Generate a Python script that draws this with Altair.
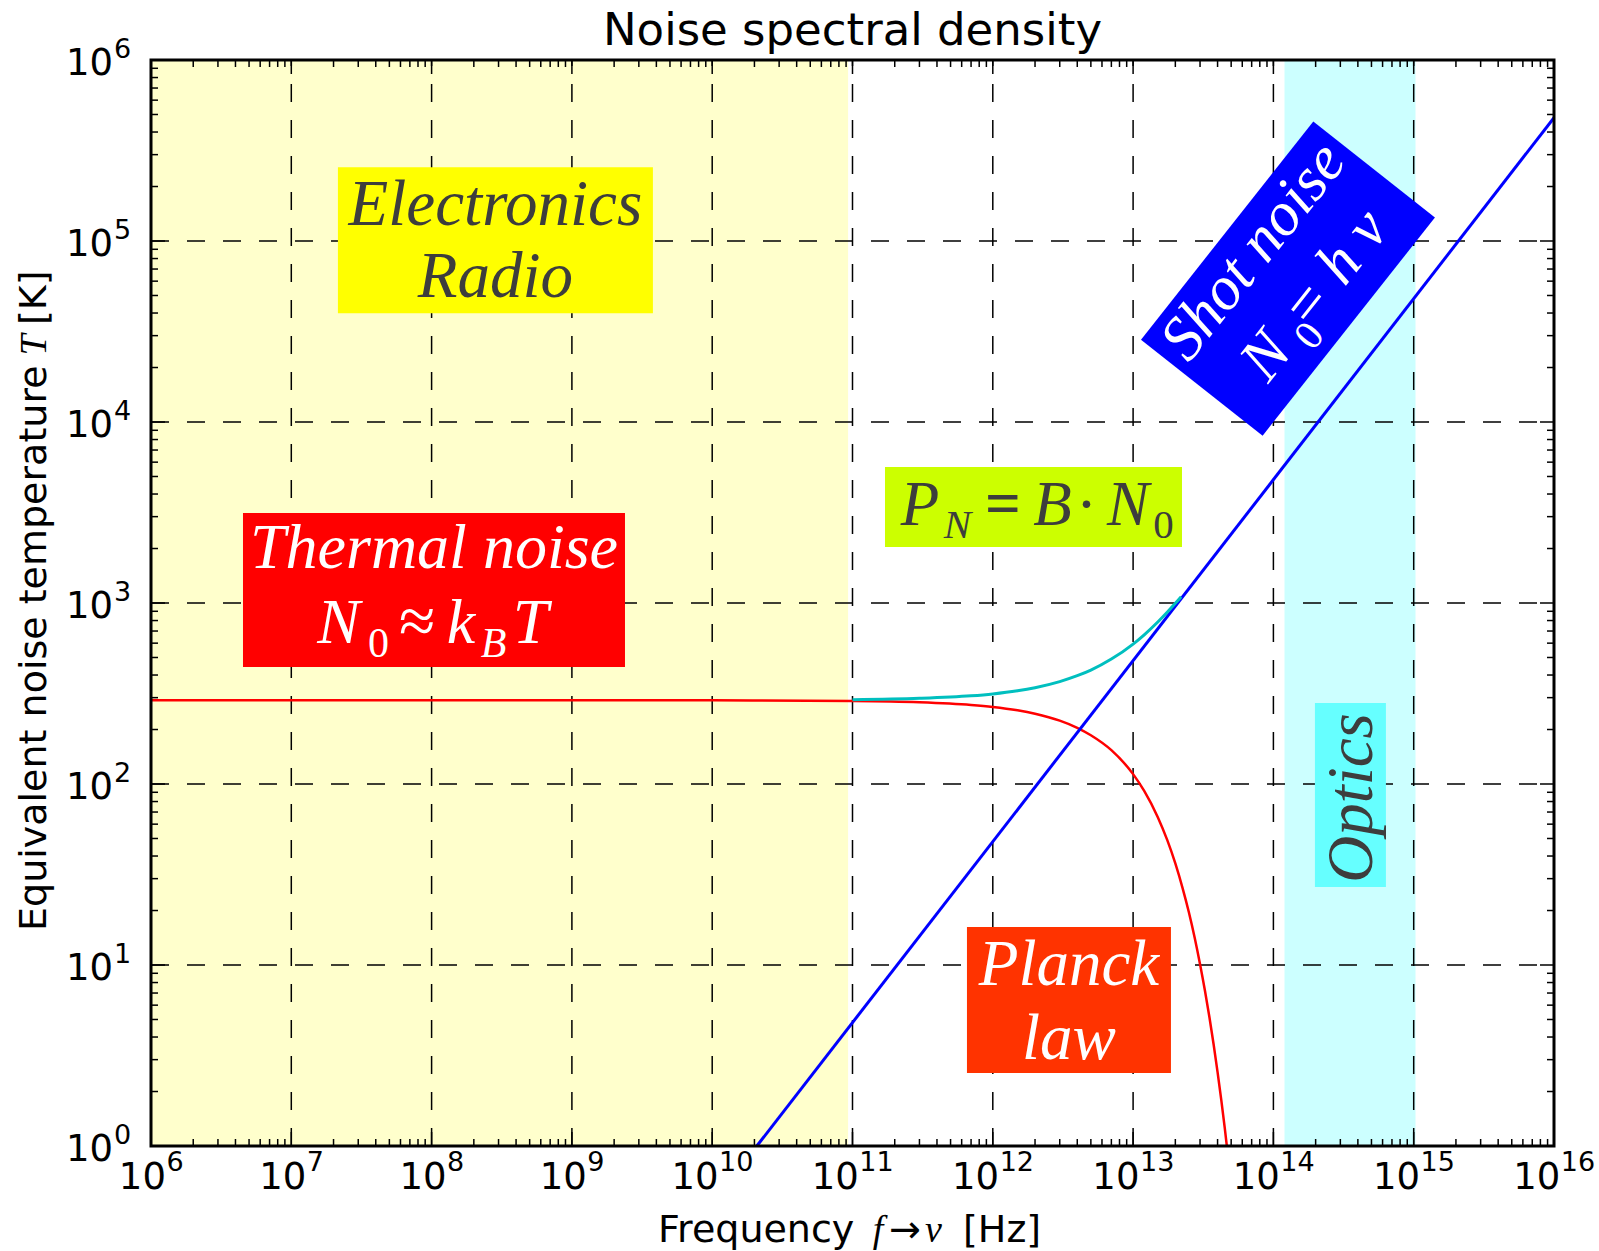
import altair as alt
import pandas as pd

# ---------------- data ----------------
thermal_freq = [1e6, 1e7, 1e8, 1e9, 1e10, 1e11, 3e11, 7e11, 1e12, 1.5e12, 2e12, 3e12,
                4e12, 5e12, 7e12, 1e13, 1.2e13, 1.5e13, 1.75e13, 2e13, 2.25e13, 2.5e13,
                2.75e13, 3e13, 3.25e13, 3.5e13, 3.75e13, 4e13, 4.25e13, 4.5e13, 4.7e13]
thermal_T = [290, 290, 290, 290, 289.8, 287.6, 283, 273.5, 266.6, 255.4, 244.6, 224,
             204.5, 186, 153.8, 113.4, 91.6, 65.6, 49.1, 36.4, 26.7, 19.5,
             14.1, 10.1, 7.23, 5.14, 3.64, 2.56, 1.80, 1.26, 0.94]

sum_freq = [1e11, 3e11, 7e11, 1e12, 1.5e12, 2e12, 3e12, 4e12, 5e12, 7e12, 1e13,
            1.2e13, 1.5e13, 1.75e13, 2e13, 2.2e13]
sum_T = [292.4, 297.4, 307.1, 314.6, 327.4, 340.6, 368, 396.5, 426, 490, 593,
         667.6, 785.6, 889, 996, 1084]

shot_freq = [2.08e10, 1e16]
shot_T = [1.0, 4.8e5]

region_start = [1e6, 1.2e14]
region_end = [9.3e10, 1.03e15]
region_color = ["#FFFFCC", "#CCFFFF"]

x_exponents = list(range(6, 17))
y_exponents = list(range(0, 7))

title_text = "Noise spectral density"

# annotation anchors (data coordinates)
ann_x = {"elec": 2.85e8, "therm": 1.04e8, "pn": 1.95e12, "shot": 1.27e14,
         "planck": 3.49e12, "optics": 3.54e14}
ann_y = {"elec": 1.01e5, "therm": 1180, "pn": 3390, "shot": 6.2e4,
         "planck": 6.4, "optics": 87}

# ---------------- layout ----------------
W, H = 1403, 1086
xs = alt.Scale(type="log", domain=[1e6, 1e16])
ys = alt.Scale(type="log", domain=[1, 1e6])


def X(f):
    return alt.X(f, type="quantitative", scale=xs, axis=None)


def Y(f):
    return alt.Y(f, type="quantitative", scale=ys, axis=None)


layers = []

# background regions
reg = pd.DataFrame({"s": region_start, "e": region_end, "c": region_color})
layers.append(alt.Chart(reg).mark_rect().encode(
    x=X("s"), x2=alt.X2("e"), y=alt.value(0), y2=alt.value(H),
    color=alt.Color("c:N", scale=None)))

# grid
x_major = [10.0 ** e for e in x_exponents]
y_major = [10.0 ** e for e in y_exponents]
x_minor = [m * 10.0 ** e for e in x_exponents[:-1] for m in range(2, 10)]
y_minor = [m * 10.0 ** e for e in y_exponents[:-1] for m in range(2, 10)]

dash = [18, 18]
layers.append(alt.Chart(pd.DataFrame({"v": x_major[1:-1]})).mark_rule(
    color="black", strokeWidth=1.5, strokeDash=dash).encode(
    x=X("v"), y=alt.value(H), y2=alt.value(0)))
layers.append(alt.Chart(pd.DataFrame({"v": y_major[1:-1]})).mark_rule(
    color="black", strokeWidth=1.5, strokeDash=dash).encode(
    y=Y("v"), x=alt.value(0), x2=alt.value(W)))

# ticks (inside, all four sides)
for vals, ln in ((x_major, 14), (x_minor, 7)):
    d = pd.DataFrame({"v": vals})
    layers.append(alt.Chart(d).mark_rule(color="black", strokeWidth=1.5).encode(
        x=X("v"), y=alt.value(H), y2=alt.value(H - ln)))
    layers.append(alt.Chart(d).mark_rule(color="black", strokeWidth=1.5).encode(
        x=X("v"), y=alt.value(0), y2=alt.value(ln)))
for vals, ln in ((y_major, 14), (y_minor, 7)):
    d = pd.DataFrame({"v": vals})
    layers.append(alt.Chart(d).mark_rule(color="black", strokeWidth=1.5).encode(
        y=Y("v"), x=alt.value(0), x2=alt.value(ln)))
    layers.append(alt.Chart(d).mark_rule(color="black", strokeWidth=1.5).encode(
        y=Y("v"), x=alt.value(W), x2=alt.value(W - ln)))

# curves
th = pd.DataFrame({"f": thermal_freq, "T": thermal_T})
sm = pd.DataFrame({"f": sum_freq, "T": sum_T})
sh = pd.DataFrame({"f": shot_freq, "T": shot_T})
layers.append(alt.Chart(th).mark_line(color="#FF0000", strokeWidth=2.5, clip=True,
                                      interpolate="monotone").encode(x=X("f"), y=Y("T")))
layers.append(alt.Chart(sh).mark_line(color="#0000FF", strokeWidth=3, clip=True).encode(
    x=X("f"), y=Y("T")))
layers.append(alt.Chart(sm).mark_line(color="#00BFBF", strokeWidth=3, clip=True,
                                      interpolate="monotone").encode(x=X("f"), y=Y("T")))


# annotation boxes
def box(key, w, h, fill, angle=0):
    d = pd.DataFrame({"x": [ann_x[key]], "y": [ann_y[key]]})
    path = f"M{-w/2},{-h/2}L{w/2},{-h/2}L{w/2},{h/2}L{-w/2},{h/2}Z"
    kw = dict(shape=path, size=4, filled=True, fill=fill, opacity=1, strokeWidth=0)
    if angle:
        kw["angle"] = angle
    return alt.Chart(d).mark_point(**kw).encode(x=X("x"), y=Y("y"))


SHOT_ANGLE = 308.3
layers += [
    box("elec", 315, 146, "#FFFF00"),
    box("therm", 382, 154, "#FF0000"),
    box("pn", 297, 80, "#CCFF00"),
    box("shot", 278, 155, "#0000FF", SHOT_ANGLE),
    box("planck", 204, 146, "#FF3300"),
    box("optics", 71, 184, "#66FFFF"),
]

SERIF = "Liberation Serif"
DARK = "#3D3D3D"


def piece(key, text, dx, dy, size, color, italic=True, angle=0, align="center",
          bold=False):
    d = pd.DataFrame({"x": [ann_x[key]], "y": [ann_y[key]], "t": [text]})
    kw = dict(align=align, baseline="alphabetic", dx=dx, dy=dy, fontSize=size,
              font=SERIF, fontStyle="italic" if italic else "normal", color=color)
    if bold:
        kw["fontWeight"] = "bold"
    if angle:
        kw["angle"] = angle
    return alt.Chart(d).mark_text(**kw).encode(x=X("x"), y=Y("y"), text="t:N")


# Electronics / Radio
layers.append(piece("elec", "Electronics", 0, -15, 65, DARK))
layers.append(piece("elec", "Radio", 0, 57, 65, DARK))
# Thermal noise
layers.append(piece("therm", "Thermal noise", 0, -22, 64, "white"))
for t, dx, dy, sz, it in [("N", -95.5, 53, 64, True), ("0", -55.5, 67, 42, False),
                          ("≈", -17, 53, 66, False), ("k", 27, 53, 64, True),
                          ("B", 59.5, 67, 42, True), ("T", 96.5, 53, 64, True)]:
    layers.append(piece("therm", t, dx, dy, sz, "white", it))
# P_N = B . N_0
for t, dx, dy, sz, it, bd in [("P", -113.5, 18, 63, True, False), ("N", -76, 31, 41, True, False),
                              ("=", -30.5, 18, 63, False, True), ("B", 19, 18, 63, True, False),
                              ("·", 53, 18, 63, False, False), ("N", 94.5, 18, 63, True, False),
                              ("0", 130, 31, 41, False, False)]:
    layers.append(piece("pn", t, dx, dy, sz, DARK, it, bold=bd))
# Shot noise (rotated)
layers.append(piece("shot", "Shot noise", 0, -25, 62, "white", True, SHOT_ANGLE))
for t, dx, dy, sz, it in [("N", -74.5, 50, 62, True), ("0", -31.5, 65, 41, False),
                          ("=", -8, 50, 62, False), ("h", 43.6, 50, 62, True),
                          ("ν", 88.4, 50, 62, True)]:
    layers.append(piece("shot", t, dx, dy, sz, "white", it, SHOT_ANGLE))
# Planck law
layers.append(piece("planck", "Planck", 0, -15, 65, "white"))
layers.append(piece("planck", "law", 0, 59, 65, "white"))
# Optics
layers.append(piece("optics", "Optics", -3, 22, 65, DARK, True, 270))

# frame
layers.append(alt.Chart(pd.DataFrame({"a": [0]})).mark_rect(
    filled=False, color="black", strokeWidth=3).encode(
    x=alt.value(0), x2=alt.value(W), y=alt.value(0), y2=alt.value(H)))

# tick labels
SANS = "DejaVu Sans"
BASE, SUP = 37, 27
for digits in (1, 2):
    exps = [e for e in x_exponents if len(str(e)) == digits]
    d = pd.DataFrame({"v": [10.0 ** e for e in exps], "s": [str(e) for e in exps]})
    bw = 1.272 * BASE
    sw = 0.636 * SUP * digits
    off = (bw - sw) / 2
    layers.append(alt.Chart(d).mark_text(align="right", baseline="alphabetic", dx=off,
                                         fontSize=BASE, font=SANS, color="black").encode(
        x=X("v"), y=alt.value(H + 43), text=alt.value("10")))
    layers.append(alt.Chart(d).mark_text(align="left", baseline="alphabetic", dx=off + 0.5,
                                         fontSize=SUP, font=SANS, color="black").encode(
        x=X("v"), y=alt.value(H + 25), text="s:N"))

dy_ = pd.DataFrame({"v": y_major, "s": [str(e) for e in y_exponents]})
layers.append(alt.Chart(dy_).mark_text(align="right", baseline="alphabetic", dy=15,
                                       fontSize=BASE, font=SANS, color="black").encode(
    y=Y("v"), x=alt.value(-38), text=alt.value("10")))
layers.append(alt.Chart(dy_).mark_text(align="left", baseline="alphabetic", dy=-2,
                                       fontSize=SUP, font=SANS, color="black").encode(
    y=Y("v"), x=alt.value(-37), text="s:N"))


# axis titles and chart title
def free_text(text, x, y, size, font=SANS, italic=False, align="center", angle=0, dx=0):
    kw = dict(align=align, baseline="alphabetic", fontSize=size, font=font,
              fontStyle="italic" if italic else "normal", color="black", dx=dx)
    if angle:
        kw["angle"] = angle
    return alt.Chart(pd.DataFrame({"t": [text]})).mark_text(**kw).encode(
        x=alt.value(x), y=alt.value(y), text="t:N")


layers.append(free_text(title_text, W / 2, -15, 45))
# x label
XL = 38
layers.append(free_text("Frequency", 507, 1182, XL, align="left"))
layers.append(free_text("f", 727, 1182, XL, SERIF, True))
layers.append(free_text("→", 754, 1182, XL, SANS))
layers.append(free_text("ν", 782.5, 1182, XL, SERIF, True))
layers.append(free_text("[Hz]", 812, 1182, XL, align="left"))
# y label (rotated)
YL = 38
layers.append(free_text("Equivalent noise temperature", -105, 871, YL, align="left", angle=270))
layers.append(free_text("T", -105, 871, YL, SERIF, True, "center", 270, dx=586))
layers.append(free_text("[K]", -105, 871, YL, SANS, False, "left", 270, dx=606))

chart = alt.layer(*layers).properties(
    width=W, height=H,
    autosize=alt.AutoSizeParams(type="none"),
    padding={"left": 151, "top": 60, "right": 45, "bottom": 105},
).configure_view(stroke=None)

chart.save("out.html", embed_options={"renderer": "svg", "actions": False})
